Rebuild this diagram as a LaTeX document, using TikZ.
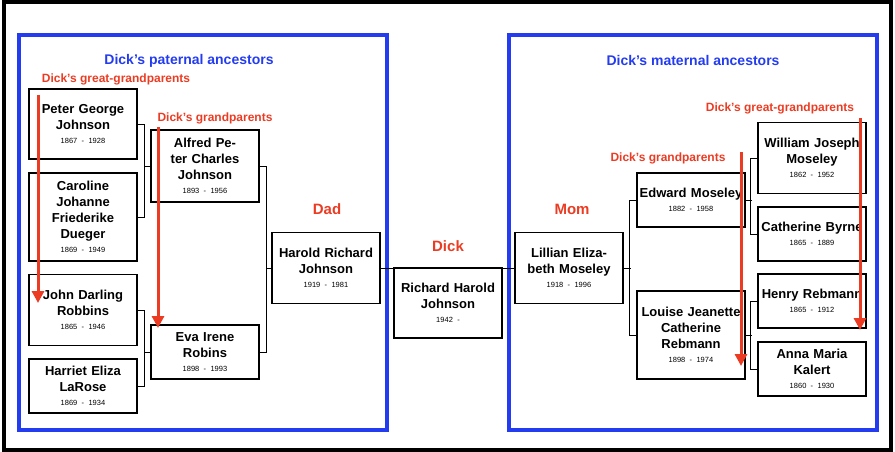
\documentclass[tikz,border=0pt]{standalone}
\usepackage{fontspec}
\setmainfont{Liberation Sans}
\usetikzlibrary{arrows.meta}
\definecolor{frameblue}{RGB}{35,60,240}
\definecolor{notered}{RGB}{235,60,35}
\tikzset{
  person/.style={draw, line width=1.3pt, fill=white, minimum width=108pt, text width=104pt,
    align=center, inner sep=1pt, font=\bfseries\fontsize{13}{16}\selectfont},
  link/.style={line width=1pt},
  side/.style={draw=frameblue, line width=4pt},
  title/.style={text=frameblue, font=\bfseries\fontsize{14}{16}\selectfont},
  note/.style={text=notered, font=\bfseries\fontsize{12}{14}\selectfont},
  tag/.style={text=notered, font=\bfseries\fontsize{15}{17}\selectfont},
  gen/.style={draw=notered, line width=3pt, -{Triangle[length=12pt,width=12pt]}}
}
\newcommand{\yrs}[1]{\\[-2pt]{\normalfont\fontsize{7.5}{9}\selectfont #1}}
\begin{document}
\begin{tikzpicture}[x=1pt, y=-1pt]
    \useasboundingbox (0,0) rectangle (895,452);
    \draw[line width=4pt] (4,2) rectangle (891,450);
    \draw[side] (19,35) rectangle (387,430);
    \draw[side] (509,35) rectangle (877,430);

    \node[title] (paternal) at (189,61) {Dick’s paternal ancestors};
    \node[title] (maternal) at (693,60) {Dick’s maternal ancestors};

    % paternal side
    \node[person, minimum height=70pt] (peter) at (83,124) {Peter George Johnson\yrs{1867 - 1928}};
    \node[person, minimum height=88pt] (caroline) at (83,217) {Caroline Johanne Friederike Dueger\yrs{1869 - 1949}};
    \node[person, minimum height=71pt] (john) at (83,310) {John Darling Robbins\yrs{1865 - 1946}};
    \node[person, minimum height=54pt] (harriet) at (83,386) {Harriet Eliza LaRose\yrs{1869 - 1934}};
    \node[person, minimum height=72pt] (alfred) at (205,166) {Alfred Peter Charles Johnson\yrs{1893 - 1956}};
    \node[person, minimum height=54pt] (eva) at (205,352) {Eva Irene Robins\yrs{1898 - 1993}};
    \node[person, minimum height=71pt] (harold) at (326,268) {Harold Richard Johnson\yrs{1919 - 1981}};

    % centre
    \node[person, minimum height=70pt] (dick) at (448,303) {Richard Harold Johnson\yrs{1942 -}};

    % maternal side
    \node[person, minimum height=71pt] (lillian) at (569,268) {Lillian Elizabeth Moseley\yrs{1918 - 1996}};
    \node[person, minimum height=54pt] (edward) at (691,200) {Edward Moseley\yrs{1882 - 1958}};
    \node[person, minimum height=88pt] (louise) at (691,335) {Louise Jeanette Catherine Rebmann\yrs{1898 - 1974}};
    \node[person, minimum height=71pt] (william) at (812,158) {William Joseph Moseley\yrs{1862 - 1952}};
    \node[person, minimum height=54pt] (catherine) at (812,234) {Catherine Byrne\yrs{1865 - 1889}};
    \node[person, minimum height=54pt] (henry) at (812,301) {Henry Rebmann\yrs{1865 - 1912}};
    \node[person, minimum height=54pt] (anna) at (812,369) {Anna Maria Kalert\yrs{1860 - 1930}};

    % brackets
    \draw[link] (peter.east) -| ++(7,0) |- (caroline.east);
    \draw[link] (peter.east) ++(7,0) |- (alfred.west);
    \draw[link] (john.east) -| ++(7,0) |- (harriet.east);
    \draw[link] (john.east) ++(7,0) |- (eva.west);
    \draw[link] (alfred.east) -| ++(7,0) |- (eva.east);
    \draw[link] (alfred.east) ++(7,0) |- (harold.west);
    \draw[link] (harold.east) -- (harold.east -| dick.west);
    \draw[link] (lillian.west) -- (lillian.west -| dick.east);
    \draw[link] (lillian.east) -- ++(7,0) coordinate (lm);
    \draw[link] (edward.west) -| ++(-7,0) |- (louise.west);
    \draw[link] (edward.east) -| ++(6,0) coordinate (em);
    \draw[link] (william.west) -| ++(-7,0) |- (catherine.west);
    \draw[link] (louise.east) -- ++(6,0);
    \draw[link] (henry.west) -| ++(-7,0) |- (anna.west);

    % labels
    \node[note] (ggp) at (116,79) {Dick’s great-grandparents};
    \node[note] (gp) at (215,118) {Dick’s grandparents};
    \node[note] (gpm) at (668,158) {Dick’s grandparents};
    \node[note] (ggpm) at (780,108) {Dick’s great-grandparents};
    \node[tag] (dad) at (327,209) {Dad};
    \node[tag] (dicktag) at (448,246) {Dick};
    \node[tag] (mom) at (572,209) {Mom};

    % generation arrows
    \draw[gen] (38,95) -- (38,303);
    \draw[gen] (158,127) -- (158,328);
    \draw[gen] (741,152) -- (741,366);
    \draw[gen] (860,118) -- (860,330);
\end{tikzpicture}
\end{document}
